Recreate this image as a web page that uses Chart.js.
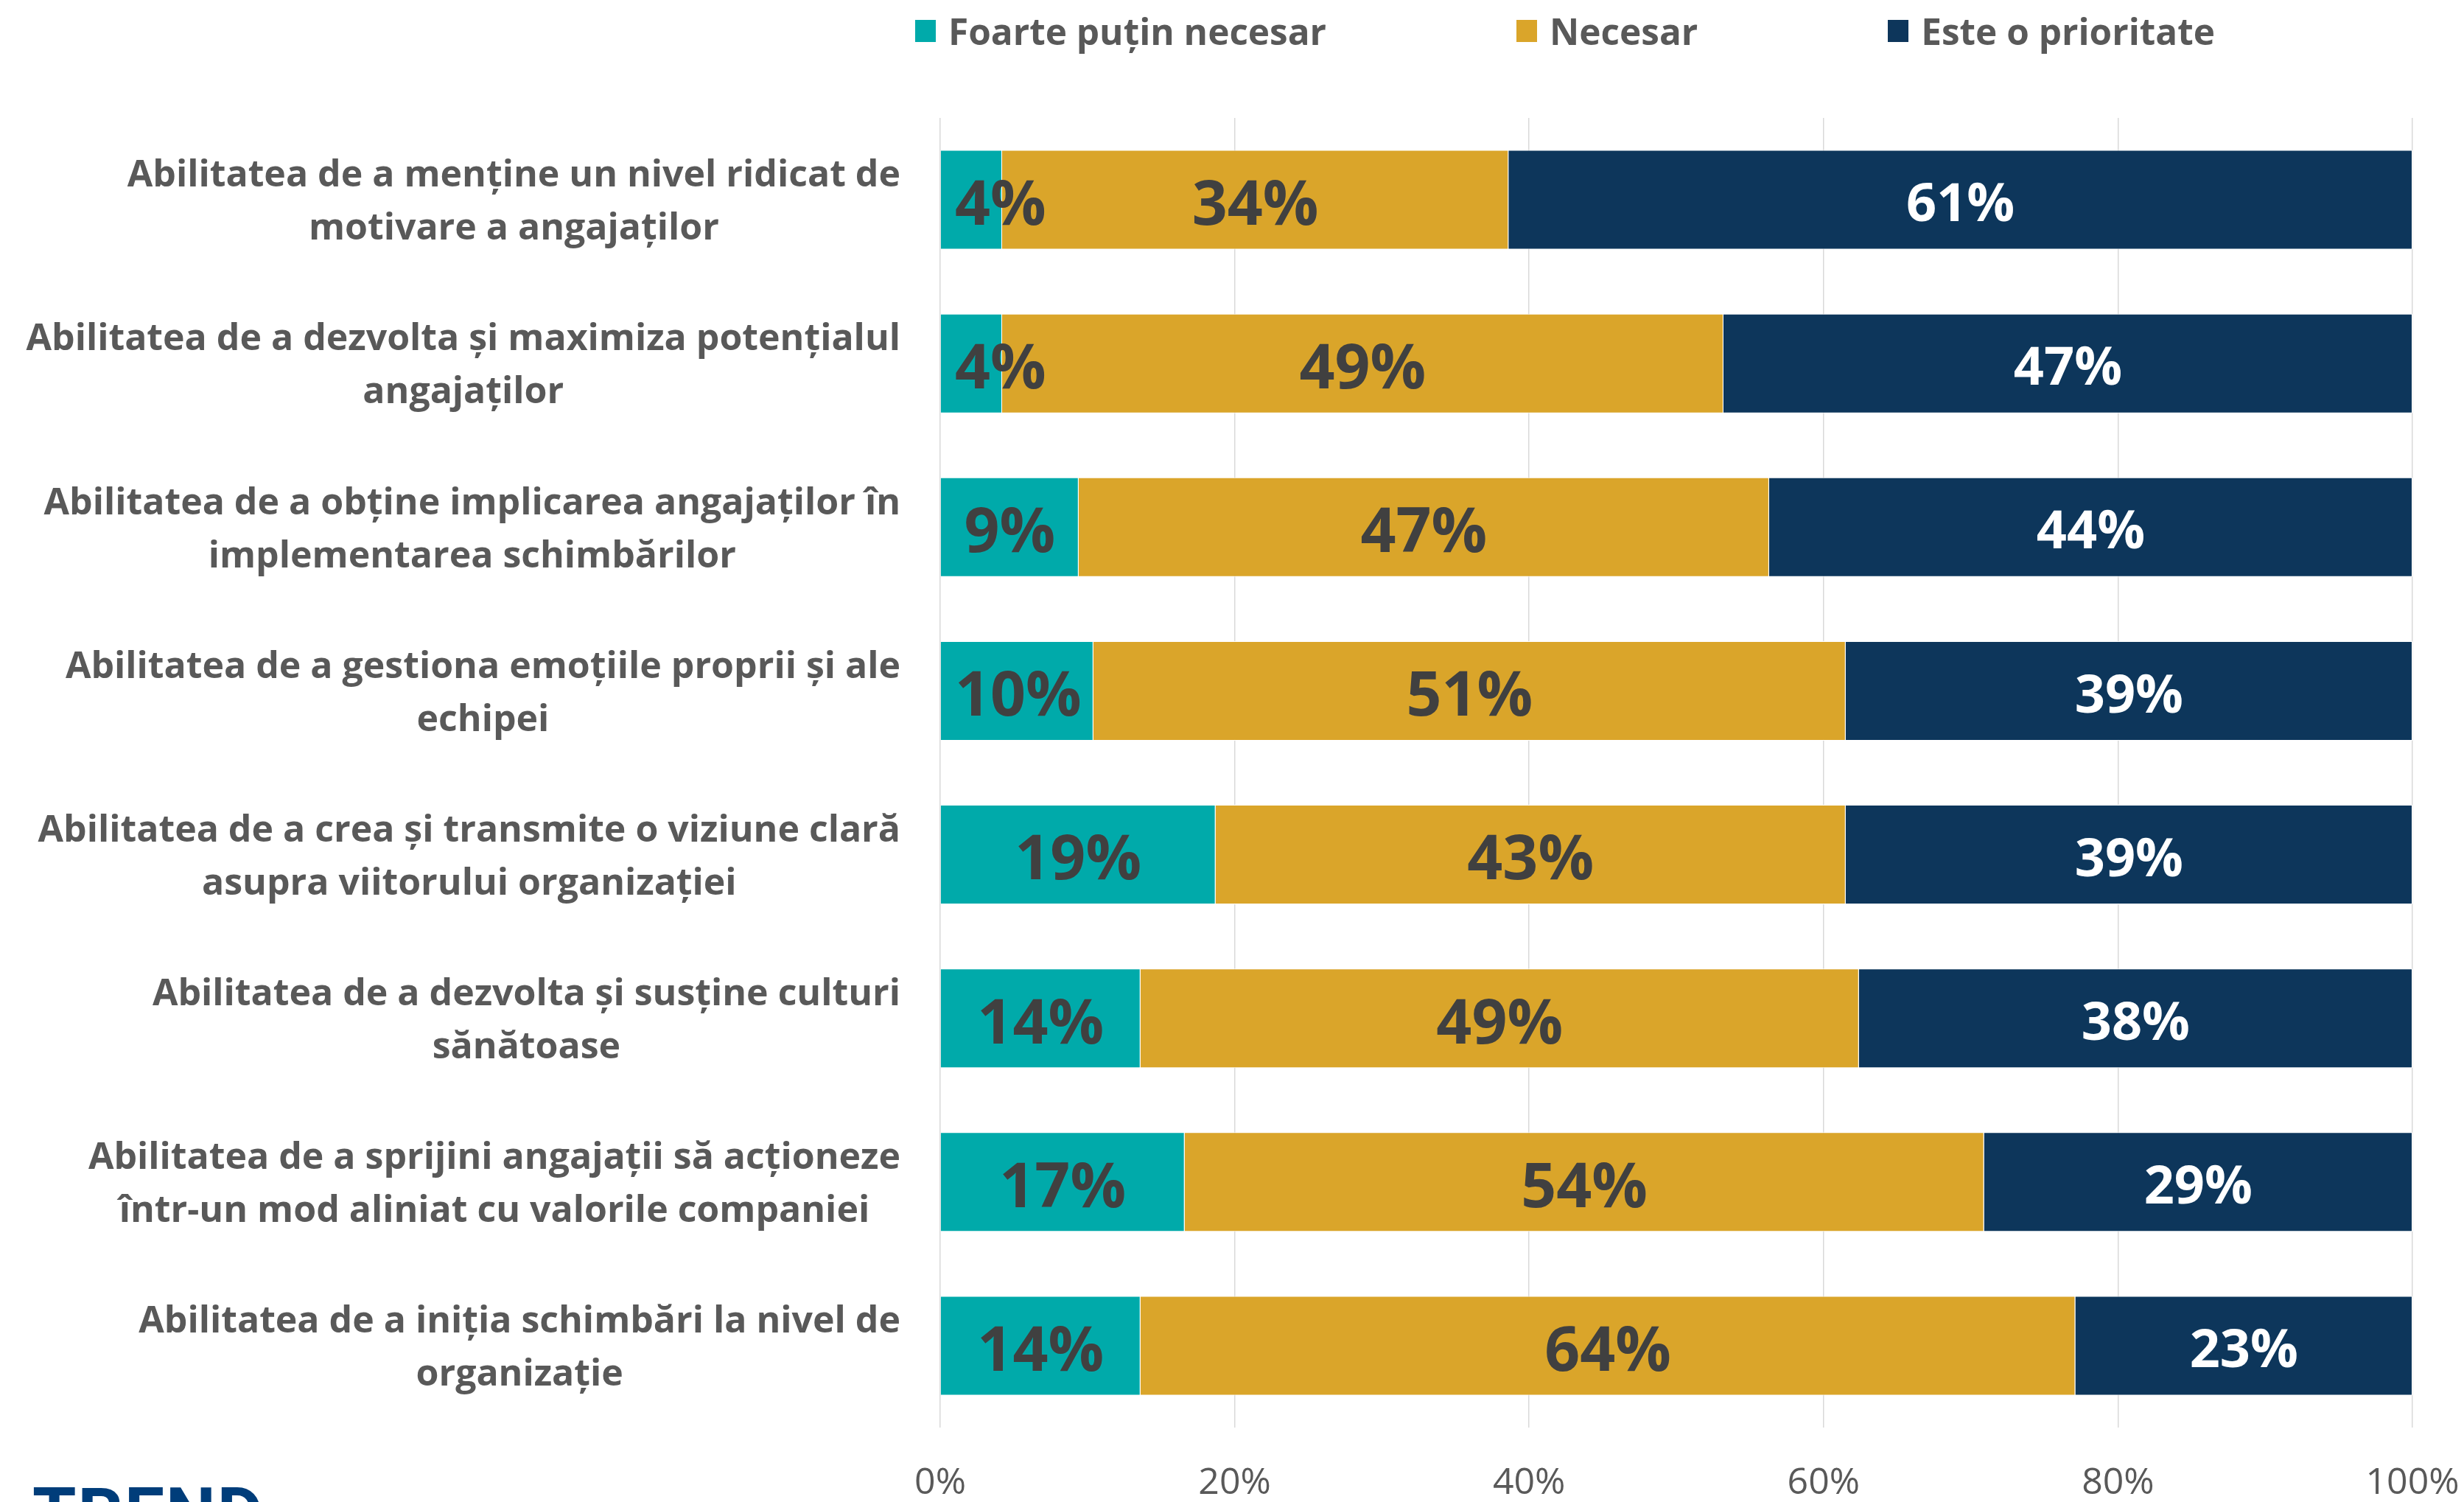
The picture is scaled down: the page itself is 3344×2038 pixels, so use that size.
<!DOCTYPE html>
<html lang="ro">
<head>
<meta charset="utf-8">
<title>Abilități de leadership</title>
<script src="https://cdn.jsdelivr.net/npm/chart.js@4.4.1/dist/chart.umd.min.js"></script>
<style>
  html, body { margin: 0; padding: 0; background: #fff; }
  #wrap { position: relative; width: 3344px; height: 2038px; overflow: hidden; }
  #legend {
    position: absolute; left: 1242px; top: 8px;
    display: flex; align-items: center;
    font-family: "Open Sans", sans-serif; font-weight: 700; font-size: 49.5px; color: #595959;
  }
  #legend .item { display: flex; align-items: center; margin-right: 258px; }
  #legend .box { width: 28px; height: 30px; margin-right: 17px; }
  #logo {
    position: absolute; left: 44px; top: 2006px;
    font-family: Roboto, sans-serif; font-weight: 700; font-size: 96px; line-height: 1;
    color: #003d7a; letter-spacing: 2px;
  }
</style>
</head>
<body>
<div id="wrap">
  <canvas id="skillsChart" width="3344" height="2038"></canvas>
  <div id="legend"></div>
  <div id="logo">TREND</div>
</div>
<script>
// Categories (two lines each)
const categories = [
  ["Abilitatea de a menține un nivel ridicat de", "motivare a angajaților"],
  ["Abilitatea de a dezvolta și maximiza potențialul", "angajaților"],
  ["Abilitatea de a obține implicarea angajaților în", "implementarea schimbărilor"],
  ["Abilitatea de a gestiona emoțiile proprii și ale", "echipei"],
  ["Abilitatea de a crea și transmite o viziune clară", "asupra viitorului organizației"],
  ["Abilitatea de a dezvolta și susține culturi", "sănătoase"],
  ["Abilitatea de a sprijini angajații să acționeze", "într-un mod aliniat cu valorile companiei"],
  ["Abilitatea de a iniția schimbări la nivel de", "organizație"],
];

// Shares per answer, in percent
const veryLittleNeeded = [4.2, 4.2, 9.4, 10.4, 18.7, 13.6, 16.6, 13.6];
const needed = [34.4, 49.0, 46.9, 51.1, 42.8, 48.8, 54.3, 63.5];
const priority = [61.4, 46.8, 43.7, 38.5, 38.5, 37.6, 29.1, 22.9];

const seriesNames = ["Foarte puțin necesar", "Necesar", "Este o prioritate"];
const seriesColors = ["#00aaaa", "#daa52a", "#0d365b"];
const labelColors = ["#404040", "#404040", "#ffffff"];
const labelSizes = [84, 84, 72];

const xTickStep = 20;

// Value labels in the middle of each segment
const segmentLabels = {
  id: "segmentLabels",
  afterDatasetsDraw(chart) {
    const { ctx, chartArea } = chart;
    ctx.save();
    ctx.textAlign = "center";
    ctx.textBaseline = "middle";
    chart.data.datasets.forEach((ds, di) => {
      const meta = chart.getDatasetMeta(di);
      ctx.font = `bold ${labelSizes[di]}px "Open Sans"`;
      ctx.fillStyle = labelColors[di];
      meta.data.forEach((bar, i) => {
        const text = Math.round(ds.data[i]) + "%";
        const w = ctx.measureText(text).width;
        let x = (bar.x + bar.base) / 2;
        x = Math.max(x, chartArea.left + 20 + w / 2);
        ctx.fillText(text, x, bar.y + 10 * labelSizes[di] / 84);
      });
    });
    ctx.restore();
  },
};

// Category names, centred as a block and right-aligned next to the plot
const categoryLabels = {
  id: "categoryLabels",
  afterDraw(chart) {
    const { ctx, chartArea } = chart;
    const y = chart.scales.y;
    const right = chartArea.left - 54;
    const lineGap = 72;
    ctx.save();
    ctx.font = 'bold 50px "Open Sans"';
    ctx.fillStyle = "#595959";
    ctx.textAlign = "center";
    ctx.textBaseline = "middle";
    chart.data.labels.forEach((lines, i) => {
      const yc = y.getPixelForValue(i) + 4;
      const w = Math.max(...lines.map((l) => ctx.measureText(l).width));
      const cx = right - w / 2;
      lines.forEach((line, j) => {
        ctx.fillText(line, cx, yc + (j - (lines.length - 1) / 2) * lineGap);
      });
    });
    ctx.restore();
  },
};

const config = {
  type: "bar",
  data: {
    labels: categories,
    datasets: [veryLittleNeeded, needed, priority].map((values, i) => ({
      label: seriesNames[i],
      data: values,
      backgroundColor: seriesColors[i],
      borderColor: "#ffffff",
      borderWidth: 1,
      barPercentage: 0.608,
      categoryPercentage: 1,
    })),
  },
  options: {
    indexAxis: "y",
    responsive: false,
    animation: false,
    layout: { padding: { left: 1276, right: 70, top: 160, bottom: 0 } },
    scales: {
      x: {
        stacked: true,
        min: 0,
        max: 100,
        border: { display: false },
        grid: { color: "#d9d9d9", lineWidth: 1.5, drawTicks: false },
        ticks: {
          stepSize: xTickStep,
          padding: 46,
          color: "#595959",
          font: { family: "Open Sans", size: 50 },
          callback: (v) => v + "%",
        },
        afterFit: (scale) => {
          // fixed axis height; the outer layout padding already leaves room for the end labels
          scale.height = 101;
          scale.paddingLeft = 0;
          scale.paddingRight = 0;
        },
      },
      y: {
        stacked: true,
        display: false,
      },
    },
    plugins: {
      legend: { display: false },
      tooltip: { enabled: false },
    },
  },
  plugins: [segmentLabels, categoryLabels],
};

const chart = new Chart(document.getElementById("skillsChart"), config);

// Legend built from the datasets
const legendEl = document.getElementById("legend");
chart.data.datasets.forEach((ds) => {
  const item = document.createElement("div");
  item.className = "item";
  const box = document.createElement("span");
  box.className = "box";
  box.style.background = ds.backgroundColor;
  const text = document.createElement("span");
  text.textContent = ds.label;
  item.append(box, text);
  legendEl.append(item);
});
</script>
</body>
</html>
